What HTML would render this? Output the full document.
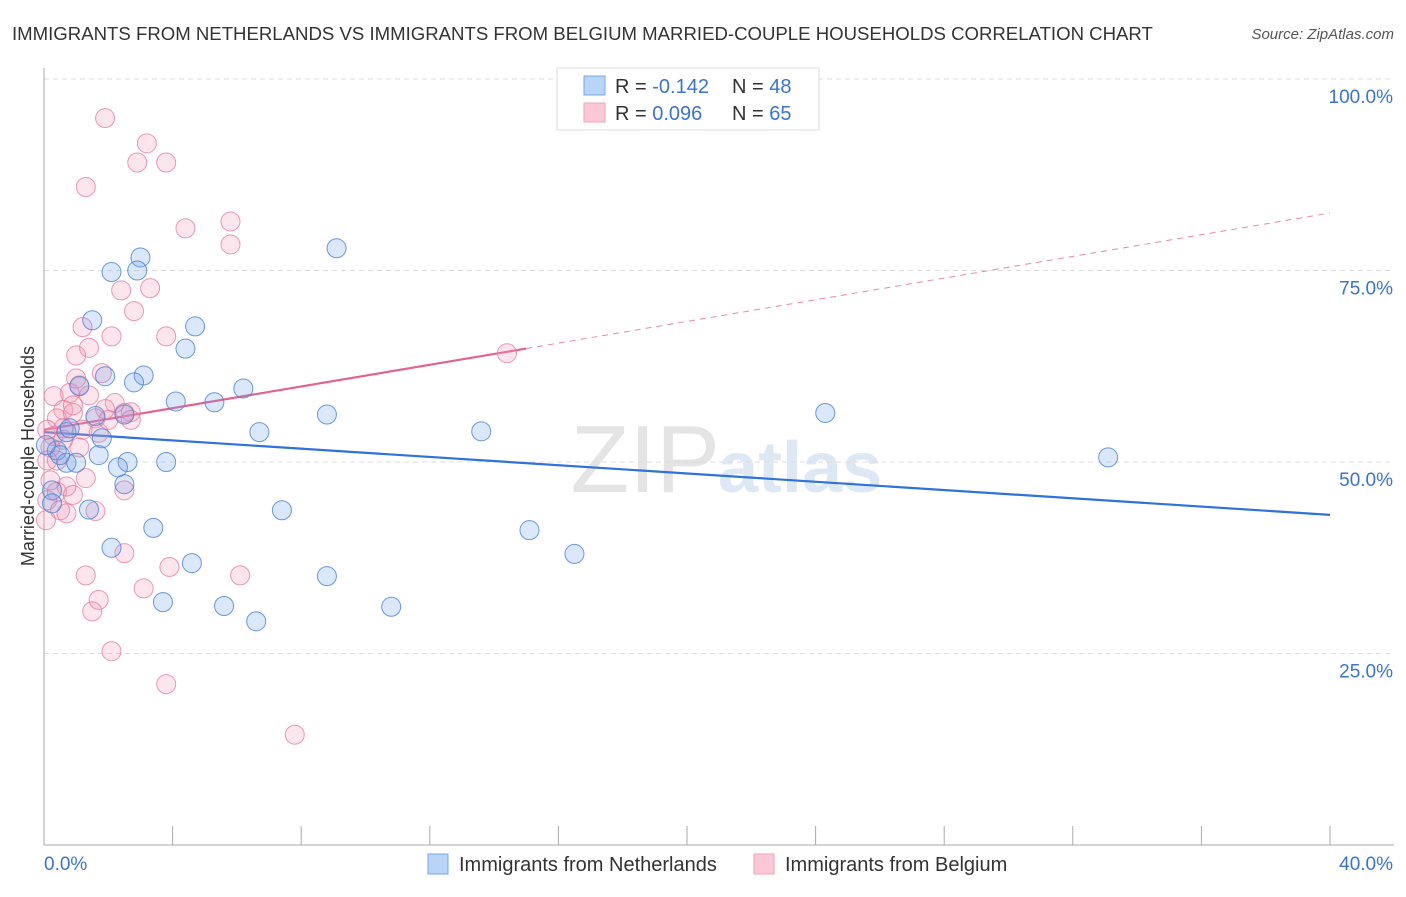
<!DOCTYPE html>
<html><head><meta charset="utf-8"><style>
body{margin:0;background:#fff;font-family:"Liberation Sans",sans-serif}
svg text{font-family:"Liberation Sans",sans-serif}
</style></head><body>
<svg id="c" width="1406" height="892" xmlns="http://www.w3.org/2000/svg">
<text x="12" y="40" font-size="18.6" fill="#333">IMMIGRANTS FROM NETHERLANDS VS IMMIGRANTS FROM BELGIUM MARRIED-COUPLE HOUSEHOLDS CORRELATION CHART</text>
<text x="1394" y="39" font-size="15" fill="#555" font-style="italic" text-anchor="end">Source: ZipAtlas.com</text>
<text x="0" y="0" transform="translate(34,456) rotate(-90)" font-size="18" fill="#333" text-anchor="middle">Married-couple Households</text>
<text x="720" y="492" font-size="96" fill="#e4e4e4" text-anchor="end" font-family="Liberation Serif">ZIP</text>
<text x="718" y="492" font-size="72" fill="#dde8f5" font-weight="bold">atlas</text>
<g id="grid"></g><g id="axes"></g><g id="lines"></g><g id="pts"></g>
<g>
<rect x="557" y="68" width="262" height="62" fill="#fff" stroke="#ddd"/>
<rect x="584" y="76" width="21" height="19" fill="#b8d4f6" stroke="#7aa7e3"/>
<rect x="584" y="103" width="21" height="19" fill="#fac8d6" stroke="#eea3ba"/>
<text x="615" y="93" font-size="20" fill="#333">R = <tspan fill="#3a74d0">-0.142</tspan></text>
<text x="732" y="93" font-size="20" fill="#333">N = <tspan fill="#3a74d0">48</tspan></text>
<text x="615" y="120" font-size="20" fill="#333">R = <tspan fill="#3a74d0"> 0.096</tspan></text>
<text x="732" y="120" font-size="20" fill="#333">N = <tspan fill="#3a74d0">65</tspan></text>
</g>
<g>
<rect x="428" y="854" width="20" height="20" fill="#b8d4f6" stroke="#7aa7e3"/>
<text x="459" y="871" font-size="20" fill="#333">Immigrants from Netherlands</text>
<rect x="754" y="854" width="20" height="20" fill="#fac8d6" stroke="#eea3ba"/>
<text x="785" y="871" font-size="20" fill="#333">Immigrants from Belgium</text>
</g>
</svg>
<script>
const blueX=[9.1,3.0,2.1,2.9,1.5,4.7,4.4,3.1,1.9,2.8,1.1,6.2,4.1,5.3,2.5,1.6,8.8,24.3,6.7,13.6,0.7,1.8,0.4,1.7,2.6,3.8,2.3,0.7,1.0,33.1,2.5,0.25,0.25,1.4,7.4,3.4,15.1,2.1,16.5,4.6,8.8,3.7,5.6,10.8,6.6,0.5,0.8,0.06];
const blueY=[77.9,76.7,74.8,75.0,68.5,67.7,64.8,61.3,61.2,60.4,59.9,59.6,57.9,57.8,56.2,56.0,56.2,56.4,53.9,54.0,53.9,53.1,51.5,50.9,50.0,50.0,49.3,49.9,49.9,50.6,47.1,46.3,44.6,43.8,43.7,41.4,41.1,38.8,38.0,36.8,35.1,31.7,31.2,31.1,29.2,50.9,54.4,52.2];
const pinkX=[1.9,3.2,2.9,3.8,1.3,5.8,4.4,5.8,2.4,3.3,2.8,1.2,2.1,3.8,1.4,14.4,1.0,1.8,1.1,0.8,0.3,2.2,2.7,0.6,1.9,0.9,1.6,0.4,0.9,2.5,2.7,1.2,0.6,1.7,0.3,1.1,0.2,0.4,0.1,1.3,0.7,0.4,0.9,0.1,0.5,1.6,0.7,0.06,2.5,2.5,1.3,3.9,6.1,3.1,1.7,1.5,2.1,3.8,7.8,0.2,0.6,1.4,1.0,0.1,2.0];
const pinkY=[94.9,91.6,89.1,89.1,85.9,81.4,80.5,78.4,72.4,72.7,69.7,67.6,66.4,66.4,64.9,64.2,60.9,61.6,60.0,59.0,58.6,57.7,56.5,56.8,56.9,56.4,55.7,55.7,57.4,56.4,55.5,54.2,54.4,53.8,53.4,51.9,51.9,50.2,50.2,47.9,46.8,46.1,45.7,45.0,43.7,43.6,43.3,42.4,46.3,38.1,35.2,36.3,35.2,33.5,32.0,30.5,25.3,21.0,14.4,47.6,52.9,58.7,63.9,54.2,55.5];
const blueTrend=[53.9,43.1];
const pinkTrend=[54.2,82.5];
const pinkSolidEnd=15.0;
const yTicks=[25,50,75,100];
const yTickLabels=["25.0%","50.0%","75.0%","100.0%"];
const xTicks=[0,4,8,12,16,20,24,28,32,36,40];
const NS="http://www.w3.org/2000/svg";
const sx=v=>44+v/40*1286, sy=v=>845-v*7.66;
function mk(tag,attrs,parent){const e=document.createElementNS(NS,tag);for(const k in attrs)e.setAttribute(k,attrs[k]);document.getElementById(parent).appendChild(e);return e;}
yTicks.forEach((t,i)=>{
 const g=mk('line',{x1:44,x2:1394,y1:sy(t),y2:sy(t),stroke:'#ddd','stroke-dasharray':'5,4'},'grid');
 
 
 const l=mk('text',{x:1393,y:sy(t)+24,'font-size':19,fill:'#3a74d0','text-anchor':'end'},'axes');
 l.textContent=yTickLabels[i];
 
 
});
const ax=mk('line',{x1:44,x2:44,y1:68,y2:845,stroke:'#aaa'},'axes');


const bx=mk('line',{x1:44,x2:1394,y1:845,y2:845,stroke:'#aaa'},'axes');


xTicks.forEach(t=>{
 const k=mk('line',{x1:sx(t),x2:sx(t),y1:826,y2:845,stroke:'#aaa'},'axes');
 
 
});
const x0=mk('text',{x:44,y:870,'font-size':19,fill:'#3a74d0'},'axes');x0.textContent='0.0%';


const x1=mk('text',{x:1393,y:870,'font-size':19,fill:'#3a74d0','text-anchor':'end'},'axes');x1.textContent='40.0%';


function circles(X,Y,fill,stroke,name){X.forEach((x,i)=>{
 const c=mk('circle',{cx:sx(x),cy:sy(Y[i]),r:9.5,fill:fill,stroke:stroke,'stroke-width':1},'pts');
 
 
});}
circles(pinkX,pinkY,'rgba(244,150,178,0.25)','rgba(230,120,155,0.75)','point-belgium');
circles(blueX,blueY,'rgba(110,160,235,0.25)','rgba(70,130,215,0.8)','point-netherlands');
const bl=mk('line',{x1:sx(0),y1:sy(blueTrend[0]),x2:sx(40),y2:sy(blueTrend[1]),stroke:'#2f72d8','stroke-width':2.2},'lines');


const pAt=x=>pinkTrend[0]+(pinkTrend[1]-pinkTrend[0])*x/40;
const pl=mk('line',{x1:sx(0),y1:sy(pAt(0)),x2:sx(pinkSolidEnd),y2:sy(pAt(pinkSolidEnd)),stroke:'#e5628c','stroke-width':2.2},'lines');


const pd=mk('line',{x1:sx(pinkSolidEnd),y1:sy(pAt(pinkSolidEnd)),x2:sx(40),y2:sy(pAt(40)),stroke:'#e88aa6','stroke-width':1,'stroke-dasharray':'6,5'},'lines');


</script>
</body></html>
